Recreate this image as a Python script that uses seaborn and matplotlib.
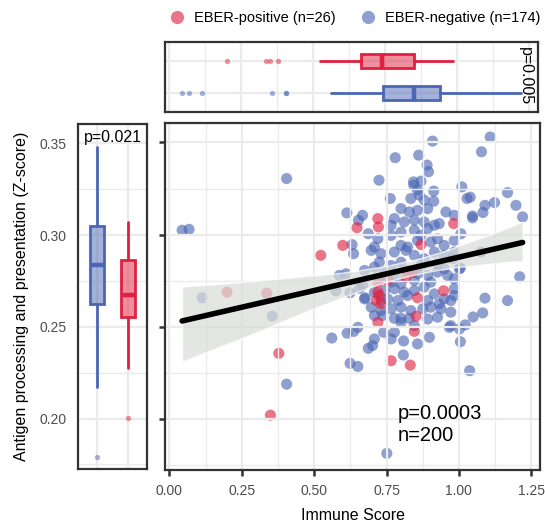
import numpy as np
import pandas as pd
import matplotlib
matplotlib.use("Agg")
import matplotlib.pyplot as plt
from matplotlib.colors import to_rgba
from matplotlib.collections import PolyCollection
from matplotlib.lines import Line2D
from matplotlib.ticker import MultipleLocator, FormatStrFormatter
import seaborn as sns

# EBER-negative samples (immune score, antigen processing z-score)
neg_immune = [
    0.044, 0.068, 0.405, 0.909, 1.108, 1.078, 0.780, 0.861, 0.890, 0.895,
    0.724, 0.843, 0.869, 0.844, 1.010, 0.913, 0.857, 0.863, 0.763, 0.834,
    0.880, 0.913, 1.028, 1.039, 1.168, 1.123, 1.090, 1.197, 1.083, 1.047,
    1.047, 1.220, 0.613, 0.667, 0.653, 0.687, 0.631, 0.636, 0.610, 0.587,
    0.575, 0.624, 0.113, 0.355, 0.656, 0.676, 1.007, 0.984, 1.076, 1.005,
    1.210, 1.090, 1.168, 1.082, 1.049, 1.022, 1.002, 1.005, 0.967, 0.898,
    1.037, 0.651, 0.637, 0.614, 0.561, 0.708, 0.687, 0.702, 0.624, 0.651,
    0.405, 0.751, 0.740, 0.766, 0.809, 0.808, 0.857, 0.777, 0.800, 0.829,
    0.737, 0.708, 0.800, 0.829, 0.857, 0.892, 0.955, 0.984, 0.766, 0.811,
    0.846, 0.880, 0.915, 0.932, 0.777, 0.720, 0.766, 0.800, 0.846, 0.892,
    0.903, 0.823, 0.857, 0.926, 0.708, 0.800, 0.697, 0.731, 0.777, 0.817,
    0.846, 0.880, 0.915, 0.949, 0.978, 0.725, 0.766, 0.800, 0.869, 0.926,
    0.708, 0.743, 0.777, 0.823, 0.857, 0.892, 0.926, 0.961, 0.984, 0.674,
    0.725, 0.766, 0.800, 0.846, 0.903, 1.001, 0.668, 0.708, 0.743, 0.777,
    0.811, 0.846, 0.880, 0.915, 0.949, 0.984, 0.674, 0.754, 0.789, 0.823,
    0.892, 0.932, 0.972, 0.697, 0.731, 0.766, 0.800, 0.834, 0.875, 0.903,
    0.938, 0.972, 0.892, 0.926, 0.777, 0.869, 0.949, 0.984, 0.731, 0.846,
    0.972, 0.984, 0.800, 0.949,
]
neg_antigen = [
    0.3024, 0.3029, 0.3304, 0.3507, 0.3529, 0.3449, 0.3417, 0.3431, 0.3377, 0.3341,
    0.3295, 0.3286, 0.3290, 0.3268, 0.3259, 0.3236, 0.3241, 0.3214, 0.3196, 0.3196,
    0.3187, 0.3181, 0.3196, 0.3203, 0.3228, 0.3174, 0.3159, 0.3159, 0.3120, 0.3101,
    0.3091, 0.3096, 0.3118, 0.3105, 0.3078, 0.3005, 0.2946, 0.2897, 0.2788, 0.2779,
    0.2696, 0.2685, 0.2658, 0.2558, 0.2710, 0.2658, 0.3005, 0.2969, 0.2906, 0.2819,
    0.2772, 0.2656, 0.2643, 0.2576, 0.2554, 0.2511, 0.2489, 0.2420, 0.2498, 0.2444,
    0.2263, 0.2498, 0.2476, 0.2466, 0.2440, 0.2435, 0.2384, 0.2399, 0.2303, 0.2286,
    0.2190, 0.1815, 0.2471, 0.2435, 0.2424, 0.2348, 0.2408, 0.2547, 0.2547, 0.2547,
    0.2562, 0.2562, 0.3141, 0.3123, 0.3132, 0.3141, 0.3123, 0.3105, 0.3051, 0.3069,
    0.3078, 0.3069, 0.3051, 0.3060, 0.3087, 0.2978, 0.2996, 0.3014, 0.3024, 0.3033,
    0.2960, 0.2933, 0.2969, 0.2978, 0.2933, 0.2942, 0.2915, 0.2897, 0.2906, 0.2915,
    0.2888, 0.2870, 0.2906, 0.2888, 0.2870, 0.2851, 0.2833, 0.2851, 0.2833, 0.2842,
    0.2824, 0.2797, 0.2779, 0.2806, 0.2788, 0.2779, 0.2797, 0.2779, 0.2761, 0.2806,
    0.2761, 0.2743, 0.2734, 0.2752, 0.2743, 0.2815, 0.2725, 0.2688, 0.2697, 0.2707,
    0.2688, 0.2697, 0.2716, 0.2679, 0.2652, 0.2707, 0.2652, 0.2652, 0.2643, 0.2670,
    0.2643, 0.2625, 0.2643, 0.2607, 0.2589, 0.2598, 0.2607, 0.2589, 0.2598, 0.2607,
    0.2598, 0.2580, 0.2543, 0.2553, 0.2471, 0.2996, 0.2942, 0.2906, 0.2643, 0.2507,
    0.2507, 0.2670, 0.2525, 0.2815,
]

# EBER-positive samples
pos_immune = [
    0.378, 0.349, 0.199, 0.336, 0.523, 0.599, 0.648, 0.720, 0.722, 0.869,
    0.982, 0.947, 0.857, 0.840, 0.817, 0.720, 0.725, 0.731, 0.720, 0.852,
    0.846, 0.766, 0.832, 0.754, 0.720, 0.714,
]
pos_antigen = [
    0.2357, 0.2022, 0.2688, 0.2683, 0.2888, 0.2942, 0.3038, 0.3087, 0.3042, 0.2946,
    0.3060, 0.2696, 0.2658, 0.2797, 0.2770, 0.2743, 0.2670, 0.2625, 0.2525, 0.2558,
    0.2476, 0.2317, 0.2293, 0.2752, 0.2688, 0.2643,
]

groups = ["EBER-negative", "EBER-positive"]
legend_labels = ["EBER-positive (n=26)", "EBER-negative (n=174)"]
colors = {"EBER-negative": "#4B66B4", "EBER-positive": "#E0203F"}

# marginal box stats: [whislo, q1, median, q3, whishi]
antigen_box = [[0.2174, 0.2627, 0.2835, 0.3047, 0.3480],
               [0.2277, 0.2554, 0.2676, 0.2866, 0.3071]]
antigen_fliers = [[0.1793], [0.2002]]
immune_box = [[0.561, 0.742, 0.848, 0.938, 1.220],
              [0.524, 0.664, 0.739, 0.848, 0.984]]
immune_fliers = [[0.044, 0.068, 0.113, 0.355, 0.405, 0.405],
                 [0.199, 0.336, 0.349, 0.378]]

p_corr = "p=0.0003\nn=200"
p_antigen = "p=0.021"
p_immune = "p=0.005"

sns.set_style("white")
plt.rcParams["font.family"] = ["Liberation Sans", "DejaVu Sans"]
plt.rcParams["text.color"] = "black"
plt.rcParams["axes.labelcolor"] = "black"

df = pd.DataFrame({
    "immune": neg_immune + pos_immune,
    "antigen": neg_antigen + pos_antigen,
    "group": ["EBER-negative"] * len(neg_immune) + ["EBER-positive"] * len(pos_immune),
})

fig = plt.figure(figsize=(5.45, 5.27), dpi=100)
ax_main = fig.add_axes([0.3028, 0.1082, 0.688, 0.6584])
ax_left = fig.add_axes([0.1431, 0.110, 0.1266, 0.6546], sharey=ax_main)
ax_top = fig.add_axes([0.3028, 0.7875, 0.6844, 0.1328], sharex=ax_main)

grid_c = "#EBEBEB"
spine_c = "#333333"

# main scatter + regression
sns.scatterplot(data=df, x="immune", y="antigen", hue="group", palette=colors,
                s=64, alpha=0.62, linewidth=0, legend=False, ax=ax_main, zorder=1)
sns.regplot(data=df, x="immune", y="antigen", scatter=False, color="black", ci=95,
            seed=3, line_kws={"lw": 4, "zorder": 3}, ax=ax_main)
for coll in ax_main.collections:
    if isinstance(coll, PolyCollection):
        coll.set_facecolor("#D9DCD9")
        coll.set_alpha(0.7)
        coll.set_zorder(2)

ax_main.set_xlim(-0.015, 1.28)
ax_main.set_ylim(0.1725, 0.3605)
ax_main.xaxis.set_major_locator(MultipleLocator(0.25))
ax_main.xaxis.set_minor_locator(MultipleLocator(0.125))
ax_main.xaxis.set_major_formatter(FormatStrFormatter("%.2f"))
ax_main.yaxis.set_major_locator(MultipleLocator(0.05))
ax_main.yaxis.set_minor_locator(MultipleLocator(0.025))
ax_main.yaxis.set_major_formatter(FormatStrFormatter("%.2f"))
ax_main.set_axisbelow("line")
ax_main.grid(which="major", color=grid_c, lw=1.6)
ax_main.grid(which="minor", color=grid_c, lw=1.0)
ax_main.tick_params(which="major", left=True, bottom=True, length=4, width=1.8,
                    color=spine_c, labelleft=False, labelsize=10, labelcolor="#4D4D4D", pad=6)
ax_main.tick_params(which="minor", length=0)
ax_main.set_xlabel("Immune Score", fontsize=11.5, labelpad=7)
ax_main.set_ylabel("")
ax_main.text(0.621, 0.131, p_corr, transform=ax_main.transAxes, ha="left", va="center",
             fontsize=14.5, linespacing=1.15)


def draw_box(ax, stats, fliers, orientation):
    bstats = [dict(whislo=s[0], q1=s[1], med=s[2], q3=s[3], whishi=s[4], fliers=f)
              for s, f in zip(stats, fliers)]
    art = ax.bxp(bstats, positions=[1, 2], widths=0.46, orientation=orientation,
                 patch_artist=True, showcaps=False, manage_ticks=False)
    for i, g in enumerate(groups):
        c = colors[g]
        art["boxes"][i].set_facecolor(to_rgba(c, 0.5))
        art["boxes"][i].set_edgecolor(c)
        art["boxes"][i].set_linewidth(2)
        art["medians"][i].set_color(c)
        art["medians"][i].set_linewidth(3.2)
        for w in art["whiskers"][2 * i:2 * i + 2]:
            w.set_color(c)
            w.set_linewidth(2)
        fl = art["fliers"][i]
        fl.set_marker("o")
        fl.set_markersize(3.8)
        fl.set_markerfacecolor(to_rgba(c, 0.5))
        fl.set_markeredgewidth(0)


# left marginal: antigen score per group
draw_box(ax_left, antigen_box, antigen_fliers, "vertical")
ax_left.set_xlim(0.4, 2.6)
ax_left.set_xticks([1, 2])
ax_left.set_axisbelow(True)
ax_left.grid(which="major", color=grid_c, lw=1.6)
ax_left.grid(which="minor", axis="y", color=grid_c, lw=1.0)
ax_left.tick_params(which="both", length=0, labelbottom=False, labelsize=10,
                    labelcolor="#4D4D4D", pad=8)
ax_left.set_ylabel("Antigen processing and presentation (Z-score)", fontsize=11.5, labelpad=8)
ax_left.text(0.507, 0.962, p_antigen, transform=ax_left.transAxes, ha="center", va="center",
             fontsize=11.5)

# top marginal: immune score per group
draw_box(ax_top, immune_box, immune_fliers, "horizontal")
ax_top.set_ylim(0.4, 2.6)
ax_top.set_yticks([1, 2])
ax_top.set_axisbelow(True)
ax_top.grid(which="major", color=grid_c, lw=1.6)
ax_top.grid(which="minor", axis="x", color=grid_c, lw=1.0)
ax_top.tick_params(which="both", length=0, labelbottom=False, labelleft=False)
ax_top.text(0.965, 0.514, p_immune, transform=ax_top.transAxes, ha="center", va="center",
            fontsize=11.5, rotation=-90)

for ax in (ax_main, ax_left, ax_top):
    for sp in ax.spines.values():
        sp.set_visible(True)
        sp.set_color(spine_c)
        sp.set_linewidth(1.6)

handles = [Line2D([], [], ls="", marker="o", markersize=9.5, markeredgewidth=0,
                  markerfacecolor=to_rgba(colors[g], 0.62))
           for g in ["EBER-positive", "EBER-negative"]]
fig.legend(handles, legend_labels, loc="center", bbox_to_anchor=(0.645, 0.966), ncol=2,
           frameon=False, fontsize=10.5, handletextpad=0.2, columnspacing=1.2)

fig.savefig("out.png", dpi=100)
